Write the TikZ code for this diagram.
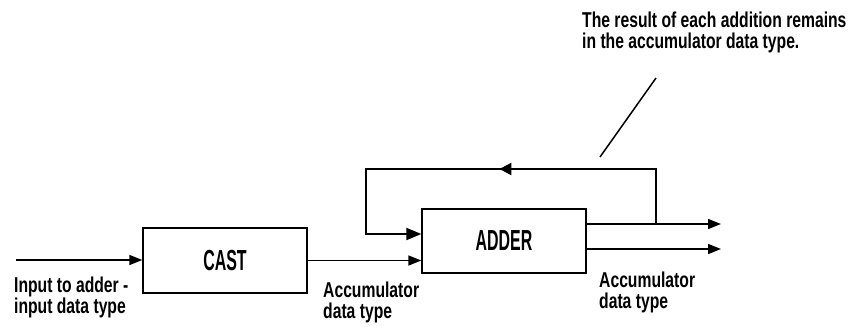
\documentclass[tikz,border=0pt]{standalone}
\usepackage{fontspec}
\usepackage{tikz}
\usetikzlibrary{arrows.meta, calc}
\newfontfamily\lblfont[FakeStretch=0.73]{Liberation Sans}
\newfontfamily\blkfont[FakeStretch=0.55]{Liberation Sans}

\begin{document}
\begin{tikzpicture}[x=1pt, y=-1pt,
      blk/.style={draw, line width=1.3pt, minimum width=164pt, inner sep=0pt, font=\blkfont\bfseries\fontsize{29}{30}\selectfont},
      lbl/.style={anchor=north west, inner sep=0pt, align=left, font=\lblfont\bfseries\fontsize{21.5}{21}\selectfont},
      sig/.style={line width=1.5pt, -{Triangle[length=13pt, width=10pt]}},
      fb/.style={line width=2pt}]
      \useasboundingbox (0,0) rectangle (849,330);
      % blocks
      \node[blk, minimum height=65pt] (cast) at (225,260.5) {CAST};
      \node[blk, minimum height=64pt] (adder) at (504,241) {ADDER};
      % free ends and corners
      \coordinate (inp) at (16,260);
      \coordinate (tap) at (656,224);
      \coordinate (fbR) at (656,169);
      \coordinate (fbL) at (366,169);
      \coordinate (outA) at (721,224);
      \coordinate (outB) at (721,249);
      \coordinate (callLo) at (600,157);
      \coordinate (callHi) at (656,78);
      % signals
      \draw[sig] (inp) -- (inp -| cast.west);
      \draw[sig] (cast.east) -- (cast.east -| adder.west);
      \draw[sig] ([yshift=17pt]adder.east) -- ([yshift=17pt]adder.east -| outA);
      \draw[sig] ([yshift=-8pt]adder.east) -- ([yshift=-8pt]adder.east -| outB);
      % feedback loop
      \draw[fb, -{Triangle[length=12pt, width=12pt]}] (tap) -- (fbR) -- ($(fbR)!0.54!(fbL)$);
      \draw[fb, -{Triangle[length=15pt, width=12pt]}] (fbR) -- (fbL) |- ([yshift=7pt]adder.west);
      \draw[line width=1.5pt] (callLo) -- (callHi);
      % labels
      \node[lbl] (inLbl) at (14,277) {Input to adder -\\input data type};
      \node[lbl] (accLbl) at (323,282) {Accumulator\\data type};
      \node[lbl] (outLbl) at (599,272) {Accumulator\\data type};
      \node[lbl] (noteLbl) at (582,12) {The result of each addition remains\\in the accumulator data type.};
    \end{tikzpicture}
\end{document}
